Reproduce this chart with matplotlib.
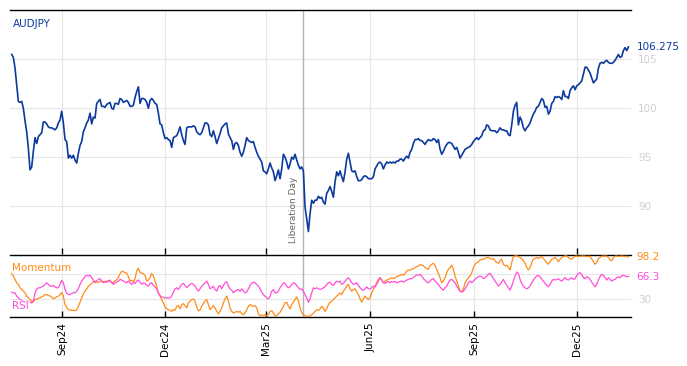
import numpy as np
import pandas as pd
import matplotlib
matplotlib.use("Agg")
import matplotlib.pyplot as plt
import matplotlib.dates as mdates

# ---------------- data ----------------
start_date = "2024-07-18"
end_date = "2026-01-16"

audjpy_a = [105.5, 105.2, 104.1, 102.4, 100.7, 100.6, 100.7, 100.0, 98.7, 97.6,
            95.9, 93.7, 94.0, 95.6, 97.0, 96.4, 97.1, 97.3, 97.5, 98.6,
            98.6, 98.4, 98.1, 98.0, 98.0, 97.9, 97.8, 98.0, 98.5, 98.8,
            99.7, 98.5, 96.8, 96.6, 94.9, 95.2, 94.9, 95.2, 94.7, 94.4,
            95.4, 96.2, 96.6, 97.6, 98.0, 98.5, 98.8, 99.5, 98.4, 99.1,
            99.0, 100.5, 100.7, 100.9, 100.2, 100.2, 100.1, 100.4, 100.5, 100.6,
            100.0, 99.9, 100.5, 100.5, 100.4, 101.0, 100.9, 100.6, 100.7, 100.8,
            100.6, 100.2, 100.2, 100.3, 101.1, 101.7, 102.2, 100.5, 101.0, 101.0,
            100.9, 100.6, 100.0, 100.8, 101.0, 100.8, 100.5, 100.4, 99.5, 98.4,
            98.3, 97.5, 96.9, 97.0, 96.8, 96.7, 96.0, 97.0, 97.1, 97.2,
            97.6, 98.1, 97.3, 96.7, 96.3, 98.0, 98.1, 98.1, 98.1, 98.2,
            98.1, 97.6, 97.4, 97.3, 97.5, 98.0, 98.5, 98.5, 98.3, 97.3,
            97.1, 97.7, 97.1, 96.4, 96.9, 97.4]
audjpy_b = [98.0, 98.2, 98.4, 98.5, 97.4, 97.0, 96.7, 95.8, 96.4, 96.5,
            96.2, 95.5, 95.1, 95.5, 96.2, 97.0, 96.7, 96.6, 96.5, 96.6,
            96.0, 95.5, 95.1, 94.8, 94.5, 93.6, 93.5, 93.3, 93.8, 94.4,
            93.9, 93.5, 92.6, 93.1, 93.7, 92.8, 93.8, 95.3, 95.0, 94.5,
            93.8, 94.3, 95.0, 94.8, 95.3, 94.7, 94.2, 93.8, 94.0, 93.6,
            89.9, 88.7, 87.4, 89.2, 90.6, 90.3, 90.6, 90.6, 91.0, 90.8,
            90.9, 90.4, 90.2, 91.3, 91.6, 92.0, 91.5, 90.9, 92.5, 93.5,
            93.1, 93.6, 93.0, 92.5, 93.5, 94.8, 95.4, 94.5, 93.6, 93.5,
            93.6, 93.0, 92.6, 92.6, 92.7, 93.0, 93.1, 93.0, 92.8, 92.8,
            92.8, 93.0, 93.8, 94.1, 94.4, 94.5, 94.3, 93.8, 94.2, 94.5,
            94.4, 94.5, 94.4, 94.5, 94.4, 94.6, 94.6, 94.8, 94.8, 94.6,
            94.9, 95.1, 94.9, 95.5, 95.8, 96.4, 96.8, 96.8, 96.9, 96.7,
            96.7, 96.5, 96.3, 96.6, 96.8]
audjpy_c = [96.7, 96.7, 96.9, 96.8, 96.5, 96.8, 95.8, 95.3, 95.6, 96.0,
            96.3, 96.5, 96.5, 96.4, 96.1, 95.8, 96.0, 95.5, 94.9, 95.2,
            95.5, 95.8, 95.9, 96.0, 96.1, 96.3, 96.6, 96.8, 97.0, 96.8,
            97.0, 97.2, 97.7, 97.8, 98.3, 98.2, 97.8, 97.7, 97.7, 97.7,
            97.5, 97.7, 98.0, 97.8, 97.8, 97.7, 97.7, 97.3, 97.2, 98.3,
            99.7, 100.3, 100.6, 98.3, 99.1, 98.7, 98.0, 97.7, 98.0, 98.2,
            98.5, 99.0, 99.4, 99.7, 100.1, 100.2, 100.6, 101.0, 100.8, 100.1,
            100.2, 99.4, 99.7, 100.5, 100.7, 101.2, 101.1, 101.2, 101.1, 100.9,
            101.8, 101.2, 101.2, 101.0, 101.8, 102.1, 102.3, 101.9, 102.3, 102.4,
            102.6, 102.8, 103.5, 104.2, 104.2, 103.9, 103.6, 103.1, 102.6, 102.8,
            103.0, 104.1, 104.6, 104.7, 104.6, 104.8, 104.9, 104.7, 104.6, 104.6,
            104.7, 104.9, 105.2, 105.5, 105.2, 105.3, 105.9, 106.2, 105.9, 106.275]

momentum_a = [71.6, 67.3, 61.8, 56.3, 53.6, 48.1, 45.3, 42.6, 39.9, 34.4,
              31.6, 28.9, 26.2, 25.1, 28.9, 29.4, 31.1, 31.6, 33.3, 34.9,
              36.6, 37.1, 35.5, 34.9, 32.7, 30.5, 31.1, 33.3, 34.4, 37.1,
              40.4, 34.4, 20.7, 16.3, 12.5, 11.9, 11.4, 11.4, 10.8, 11.9,
              17.9, 24.5, 31.6, 38.2, 43.2, 45.9, 50.8, 53.0, 55.2, 57.9,
              59.0, 57.4, 56.8, 58.5, 59.0, 57.9, 58.5, 58.5, 60.1, 58.5,
              56.3, 56.8, 59.6, 61.2, 65.1, 71.1, 74.9, 74.4, 72.7, 72.2,
              66.2, 59.0, 60.7, 57.4, 62.9, 75.5, 79.9, 72.7, 72.2, 71.1,
              68.4, 59.0, 60.7, 64.5, 71.6, 67.3, 59.0, 50.8, 39.9, 34.4,
              28.9, 23.4, 16.8, 13.6, 12.5, 11.4, 9.7, 12.5, 11.4, 17.9,
              19.0, 13.6, 20.7, 22.3, 19.0, 15.2, 23.4, 26.2, 28.9, 30.0,
              26.2, 16.8, 10.8, 11.4, 17.9, 22.3, 26.2, 28.9, 20.7, 12.5,
              15.2, 19.0, 15.2, 9.7, 5.9, 9.7, 15.2, 23.4, 30.0, 34.4,
              26.2, 15.2, 9.7, 7.0, 8.1, 9.7, 8.1, 9.7]
momentum_b = [5.9, 4.2, 7.0, 12.5, 17.9, 20.7, 19.0, 17.9, 19.0, 15.2,
              5.9, 2.6, 3.7, 2.6, 4.2, 2.6, 4.2, 9.7, 10.8, 7.0,
              2.6, 2.6, 5.9, 8.1, 12.5, 17.9, 23.4, 24.5, 17.9, 13.6,
              20.7, 24.5, 28.9, 33.3, 26.2, 15.2, 8.1, 4.2, 2.6, 1.5,
              1.5, 2.6, 4.2, 7.0, 9.7, 12.5, 11.4, 13.6, 17.9, 15.2,
              9.7, 13.6, 20.7, 24.5, 26.2, 28.9, 31.6, 34.4, 37.1, 39.9,
              37.1, 42.6, 46.4, 50.8, 53.6, 46.4, 42.6, 45.3, 46.4, 40.9,
              37.1, 30.0, 24.5, 30.0, 34.4, 31.6, 28.9, 31.6, 39.9, 45.3,
              50.8, 56.3, 61.8, 64.5, 60.7, 56.3, 59.0, 60.7, 61.8, 62.9,
              64.5, 62.9, 64.5, 66.2, 67.3, 68.4, 70.0, 68.4, 71.6, 75.5,
              77.1, 77.1, 78.2, 79.3, 81.0, 82.6, 83.7, 85.9, 84.8, 83.7,
              81.0, 79.3, 78.2, 83.7, 86.4, 88.1, 84.8, 78.2, 71.6, 64.5,
              56.3, 59.0, 64.5, 72.7, 78.2, 81.0, 84.8, 78.2, 67.3, 59.0,
              50.8, 42.6, 41.5, 46.4, 56.3, 60.7, 64.5, 67.3]
momentum_c = [72.7, 81.0, 86.4, 89.2, 90.3, 93.6, 94.7, 94.7, 95.8, 97.4,
              97.4, 95.8, 94.7, 95.8, 91.9, 89.2, 88.1, 91.9, 94.7, 86.4,
              83.7, 84.8, 81.0, 77.1, 89.2, 99.0, 100.0, 100.0, 99.0, 97.4,
              95.8, 91.9, 88.1, 81.0, 77.1, 81.0, 89.2, 94.7, 95.8, 97.4,
              95.8, 97.4, 99.0, 95.8, 91.9, 89.2, 86.4, 90.3, 94.7, 95.8,
              97.4, 94.7, 90.3, 94.7, 97.4, 99.0, 100.0, 100.0, 97.4, 95.8,
              94.7, 97.4, 99.5, 99.8, 99.0, 99.5, 99.8, 99.8, 99.5, 99.0,
              99.5, 99.0, 94.7, 90.3, 86.4, 89.2, 95.8, 97.4, 99.5, 99.8,
              99.5, 99.8, 97.4, 93.6, 91.9, 97.4, 99.5, 99.8, 99.0, 99.5,
              99.8, 99.5, 99.0, 99.5, 98.2]

rsi_a = [41.0, 39.9, 39.9, 34.4, 31.6, 28.9, 27.8, 26.2, 24.5, 26.2,
         26.2, 24.5, 23.4, 26.2, 39.9, 45.3, 48.1, 48.1, 49.7, 50.8,
         53.6, 56.3, 53.6, 50.8, 50.8, 51.9, 49.7, 48.1, 48.1, 53.6,
         60.1, 56.3, 45.3, 38.8, 37.1, 37.1, 38.8, 39.9, 39.9, 42.6,
         46.4, 53.6, 59.0, 62.9, 66.2, 68.4, 67.3, 68.4, 64.5, 60.7,
         56.3, 59.0, 61.8, 62.9, 59.0, 56.3, 57.4, 57.4, 59.0, 60.7,
         56.3, 53.6, 56.3, 57.4, 59.0, 61.8, 60.7, 59.0, 57.4, 56.3,
         59.0, 56.3, 53.6, 56.3, 55.2, 59.0, 60.7, 57.4, 53.6, 56.3,
         55.2, 51.9, 50.8, 55.2, 56.3, 51.9, 49.7, 46.4, 39.9, 35.5,
         33.3, 32.7, 31.6, 31.6, 31.6, 31.6, 34.4, 41.0, 46.4, 48.1,
         45.3, 49.7, 53.6, 55.2, 51.9, 48.1, 50.8, 53.6, 55.2, 53.6,
         50.8, 46.4, 42.6, 46.4, 50.8, 53.6, 56.3, 59.0, 53.6, 46.4,
         48.1, 50.8, 45.3, 42.6, 49.7, 51.9, 46.4, 51.9, 56.3, 57.9,
         50.8, 46.4, 44.2, 39.9, 42.6, 44.2, 45.3, 42.6]
rsi_b = [46.4, 42.6, 39.9, 41.0, 46.4, 51.9, 55.2, 57.4, 56.3, 53.6,
         50.8, 46.4, 41.0, 37.1, 34.4, 31.6, 30.0, 34.4, 42.6, 45.3,
         39.9, 39.9, 42.6, 48.1, 51.9, 56.3, 55.2, 50.8, 48.1, 49.7,
         53.6, 56.3, 55.2, 51.9, 48.1, 45.3, 46.4, 42.6, 37.1, 31.6,
         24.5, 30.0, 39.9, 48.1, 46.4, 48.1, 46.4, 45.3, 46.4, 48.1,
         49.7, 53.6, 56.3, 57.4, 53.6, 51.9, 56.3, 59.0, 57.4, 59.0,
         53.6, 55.2, 59.0, 61.8, 64.5, 60.7, 56.3, 53.6, 54.7, 56.3,
         51.9, 48.1, 45.3, 44.2, 46.4, 49.7, 46.4, 46.4, 48.1, 50.8,
         49.7, 53.6, 59.0, 64.5, 60.7, 56.3, 55.2, 57.4, 58.5, 56.3,
         58.5, 57.4, 58.5, 56.3, 57.4, 58.5, 59.0, 57.4, 59.0, 60.7,
         61.8, 62.9, 62.9, 64.5, 67.3, 69.5, 68.4, 70.0, 67.3, 62.9,
         60.7, 57.4, 56.3, 59.0, 61.8, 62.9, 59.0, 56.3, 53.6, 49.7,
         46.4, 44.2, 48.1, 50.8, 56.3, 60.7, 61.8, 59.0, 56.3, 50.8,
         46.4, 42.6, 41.0, 42.6, 46.4, 50.8, 56.3, 59.0]
rsi_c = [56.3, 59.0, 61.8, 64.5, 66.2, 67.3, 66.2, 62.9, 64.5, 67.3,
         70.0, 71.6, 67.3, 62.9, 59.0, 55.2, 50.8, 53.6, 57.4, 61.8,
         56.3, 51.9, 48.1, 44.2, 50.8, 59.0, 67.3, 73.8, 71.6, 61.8,
         55.2, 50.8, 48.1, 46.4, 48.1, 50.8, 56.3, 60.7, 64.5, 67.3,
         68.4, 66.2, 61.8, 59.0, 55.2, 51.9, 49.7, 53.6, 59.0, 61.8,
         60.7, 61.8, 62.9, 60.7, 59.0, 61.8, 64.5, 61.8, 60.7, 62.9,
         64.5, 61.8, 62.9, 68.4, 71.6, 72.7, 70.0, 64.5, 62.9, 66.2,
         64.5, 61.8, 57.4, 53.6, 49.7, 53.6, 60.7, 66.2, 70.0, 68.4,
         64.5, 60.7, 64.5, 61.8, 59.0, 60.7, 61.8, 64.5, 66.2, 64.5,
         67.3, 68.4, 67.3, 66.2, 66.3]

event_date = "2025-04-02"
event_label = "Liberation Day"
pair_name = "AUDJPY"

# ---------------- build ----------------
audjpy = np.array(audjpy_a + audjpy_b + audjpy_c)
momentum = np.array(momentum_a + momentum_b + momentum_c)
rsi = np.array(rsi_a + rsi_b + rsi_c)
dates = pd.date_range(start_date, end_date, periods=len(audjpy))

BLUE = "#0b3a9e"
ORANGE = "#ff8c1a"
PINK = "#ff4fd8"
GRID = "#e6e6e6"
LIGHT = "#cfcfcf"

fig = plt.figure(figsize=(6.87, 3.66), dpi=100)
W, H = 687, 366
ax = fig.add_axes([10 / W, 1 - 254 / H, 621 / W, (254 - 9.5) / H])
ax2 = fig.add_axes([10 / W, 1 - 317 / H, 621 / W, (317 - 255) / H], sharex=ax)

ax.plot(dates, audjpy, color=BLUE, lw=1.2, zorder=3)
ax2.plot(dates, momentum, color=ORANGE, lw=0.9, zorder=3)
ax2.plot(dates, rsi, color=PINK, lw=0.9, zorder=3)

x0 = dates[0] - pd.Timedelta(days=1.5)
x1 = dates[-1] + pd.Timedelta(days=2.3)
ax.set_xlim(x0, x1)
ax.set_ylim(85.1, 110.1)
ax2.set_ylim(0.5, 101.5)

loc = mdates.MonthLocator(bymonth=[3, 6, 9, 12])
fmt = mdates.DateFormatter("%b%y")
for a in (ax, ax2):
    a.xaxis.set_major_locator(loc)
    a.xaxis.set_major_formatter(fmt)
    a.grid(True, color=GRID, lw=0.8, zorder=0)
    a.set_axisbelow(True)
    for s in ("left", "right"):
        a.spines[s].set_visible(False)
    a.spines["top"].set_color("black")
    a.spines["top"].set_linewidth(1.0)

ax.spines["bottom"].set_visible(False)
ax2.spines["bottom"].set_color("black")
ax2.spines["bottom"].set_linewidth(1.0)

ax.tick_params(axis="x", direction="in", length=4, width=1, labelbottom=False, color="black")
ax2.tick_params(axis="x", direction="in", length=4, width=1, color="black",
                labelrotation=90, labelsize=7.5, pad=4)

ax.set_yticks([90, 95, 100, 105])
ax.yaxis.tick_right()
ax.tick_params(axis="y", length=0, labelsize=7.5, labelcolor=LIGHT, pad=5)
ax2.set_yticks([30, 70])
ax2.set_yticklabels(["30", ""])
ax2.yaxis.tick_right()
ax2.tick_params(axis="y", length=0, labelsize=7.5, labelcolor=LIGHT, pad=5)

# event line
ev = pd.Timestamp(event_date)
ev_num = mdates.date2num(ev)
ax.axvline(ev, color="#b3b3b3", lw=1.0, zorder=2)
ax2.axvline(ev, color="#b3b3b3", lw=1.0, zorder=2)
ax.annotate(event_label, xy=(ev_num, 0.045), xycoords=ax.get_xaxis_transform(),
            xytext=(-3, 0), textcoords="offset points", rotation=90,
            ha="right", va="bottom", fontsize=6.5, color="#666666")

# labels
ax.text(0.004, 0.94, pair_name, transform=ax.transAxes, fontsize=7.5, color=BLUE,
        ha="left", va="center")
ax.annotate(f"{audjpy[-1]:.3f}", xy=(1, audjpy[-1]), xycoords=ax.get_yaxis_transform(),
            xytext=(4, 0), textcoords="offset points", fontsize=7.5, color=BLUE,
            ha="left", va="center")

for val, col in ((momentum[-1], ORANGE), (rsi[-1], PINK)):
    ax2.annotate(f"{val:.1f}", xy=(1, val), xycoords=ax2.get_yaxis_transform(),
                 xytext=(4, 0), textcoords="offset points", fontsize=7.5, color=col,
                 ha="left", va="center")

ax2.text(0.004, 0.79, "Momentum", transform=ax2.transAxes, fontsize=7.5, color=ORANGE,
         ha="left", va="center", bbox=dict(facecolor="white", alpha=0.6, edgecolor="none", pad=0.5))
ax2.text(0.004, 0.18, "RSI", transform=ax2.transAxes, fontsize=7.5, color=PINK,
         ha="left", va="center", bbox=dict(facecolor="white", alpha=0.6, edgecolor="none", pad=0.5))

fig.savefig("out.png", dpi=100)
